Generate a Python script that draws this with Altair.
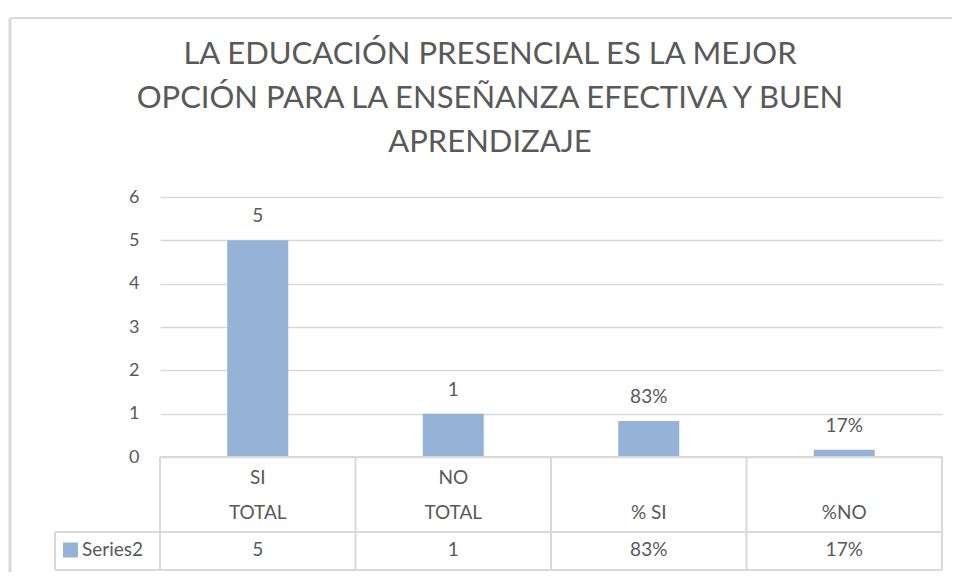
import altair as alt
import pandas as pd

categories = ["SI TOTAL", "NO TOTAL", "% SI", "%NO"]
header_line1 = ["SI", "NO", "", ""]
header_line2 = ["TOTAL", "TOTAL", "% SI", "%NO"]
values = [5, 1, 0.83, 0.17]
value_labels = ["5", "1", "83%", "17%"]
series_name = "Series2"
title_lines = [
    "LA EDUCACIÓN PRESENCIAL ES LA MEJOR",
    "OPCIÓN PARA LA ENSEÑANZA EFECTIVA Y BUEN",
    "APRENDIZAJE",
]
y_ticks = [0, 1, 2, 3, 4, 5, 6]

df = pd.DataFrame({
    "cat": categories,
    "value": values,
    "label": value_labels,
    "line1": header_line1,
    "line2": header_line2,
})

FONT = "Lato"
TXT = "#595959"
GRID = "#d9d9d9"
BAR = "#95b3d7"
W, H = 782, 260
FS = 19
FW = 400

xenc = alt.X("cat:N", sort=categories,
             scale=alt.Scale(paddingInner=0.688, paddingOuter=0.344),
             axis=None)

base = alt.Chart(df).encode(x=xenc)

bars = base.mark_bar(color=BAR).encode(
    y=alt.Y("value:Q", scale=alt.Scale(domain=[0, 6], nice=False),
            axis=alt.Axis(values=y_ticks, grid=True, gridColor=GRID, gridWidth=1.5,
                          domain=False, ticks=False, labelPadding=21,
                          labelFontSize=18, labelFontWeight=FW, labelColor=TXT,
                          labelFont=FONT, title=None))
)

bar_labels = base.mark_text(dy=-24, fontSize=FS, fontWeight=FW, color=TXT, font=FONT,
                            baseline="middle").encode(
    y=alt.Y("value:Q"), text="label:N")

row1a = base.mark_text(fontSize=FS, fontWeight=FW, color=TXT, font=FONT,
                       baseline="middle").encode(y=alt.value(281), text="line1:N")
row1b = base.mark_text(fontSize=FS, fontWeight=FW, color=TXT, font=FONT,
                       baseline="middle").encode(y=alt.value(316), text="line2:N")
row2 = base.mark_text(fontSize=FS, fontWeight=FW, color=TXT, font=FONT,
                      baseline="middle").encode(y=alt.value(353), text="label:N")

one = alt.Data(values=[{}])

def hline(x1, x2, y, color=GRID, w=2):
    return alt.Chart(one).mark_rule(color=color, strokeWidth=w).encode(
        x=alt.value(x1), x2=alt.value(x2), y=alt.value(y), y2=alt.value(y))

def vline(x, y1, y2, color=GRID, w=2):
    return alt.Chart(one).mark_rule(color=color, strokeWidth=w).encode(
        x=alt.value(x), x2=alt.value(x), y=alt.value(y1), y2=alt.value(y2))

rules = [
    hline(0, W, H),
    hline(-105, W, 335),
    hline(-105, W, 373),
    vline(-105, 335, 373),
]
for bx in [0, 195.5, 391, 586.5, W]:
    rules.append(vline(bx, H, 373))

# outer chart border
rules.append(vline(-150, -179, 400, color="#d9d9d9", w=3))
rules.append(hline(-150, 800, -179, color="#d9d9d9", w=2))

legend_sq = alt.Chart(one).mark_square(color=BAR, size=225, opacity=1).encode(
    x=alt.value(-89.5), y=alt.value(353))
legend_txt = alt.Chart(one).mark_text(text=series_name, align="left", baseline="middle",
                                      fontSize=FS, fontWeight=FW, color=TXT,
                                      font=FONT).encode(
    x=alt.value(-78), y=alt.value(353))

titles = []
for i, t in enumerate(title_lines):
    titles.append(alt.Chart(one).mark_text(text=t, align="center", baseline="middle",
                                           fontSize=31, fontWeight=400, color=TXT,
                                           font=FONT).encode(
        x=alt.value(330), y=alt.value(-142 + 44 * i)))

chart = alt.layer(bars, bar_labels, row1a, row1b, row2, *rules, legend_sq, legend_txt,
                  *titles).properties(
    width=W, height=H,
    padding={"left": 152, "top": 189, "right": 10, "bottom": 115},
    autosize=alt.AutoSizeParams(type="none"),
).configure_view(stroke=None)

chart.save("out.html", embed_options={"renderer": "svg", "actions": False})
